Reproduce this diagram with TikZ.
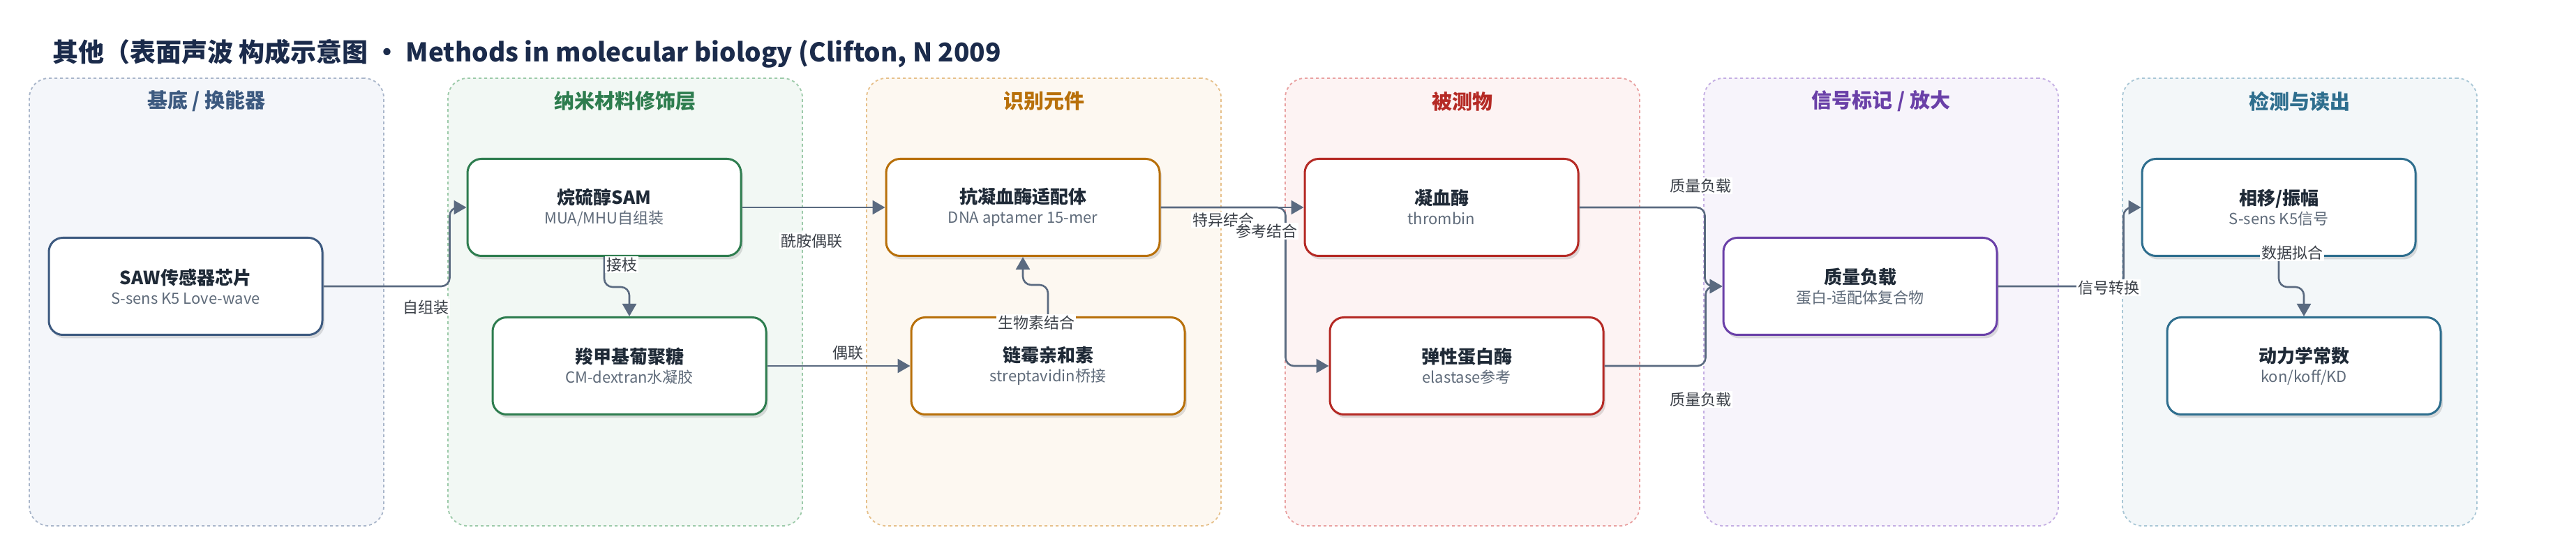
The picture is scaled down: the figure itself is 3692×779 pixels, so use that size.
\documentclass[tikz,border=0pt]{standalone}
\usepackage{fontspec}
\setmainfont{Noto Sans CJK SC}
\usetikzlibrary{arrows.meta,shadows}
\definecolor{ink}{HTML}{1F2A37}
\definecolor{titleInk}{HTML}{1B2B4B}
\definecolor{subGray}{HTML}{5F6B7A}
\definecolor{linkGray}{HTML}{5A6A80}
\definecolor{lblGray}{HTML}{3A3F47}
\definecolor{cBase}{HTML}{3D5A80}
\definecolor{cBaseBg}{HTML}{F4F6FA}
\definecolor{cBaseDash}{HTML}{A9B6CA}
\definecolor{cNano}{HTML}{2E7D4F}
\definecolor{cNanoBg}{HTML}{F2F8F4}
\definecolor{cNanoDash}{HTML}{9CCAA9}
\definecolor{cRec}{HTML}{B8700A}
\definecolor{cRecBg}{HTML}{FDF8F1}
\definecolor{cRecDash}{HTML}{E6C08A}
\definecolor{cAna}{HTML}{B52A25}
\definecolor{cAnaBg}{HTML}{FDF3F3}
\definecolor{cAnaDash}{HTML}{E9A1A1}
\definecolor{cSig}{HTML}{6A40A8}
\definecolor{cSigBg}{HTML}{F7F4FB}
\definecolor{cSigDash}{HTML}{C4AEE3}
\definecolor{cDet}{HTML}{2E6E8E}
\definecolor{cDetBg}{HTML}{F3F7F9}
\definecolor{cDetDash}{HTML}{A9C7D6}
\tikzset{
    >={Triangle[length=9pt,width=10pt]},
    group/.style 2 args={draw=#1,fill=#2,dash pattern=on 2pt off 2pt,line width=0.9pt,rounded corners=14pt,minimum width=254pt,minimum height=320.5pt},
    gtitle/.style={text=#1,font=\fontsize{14.5}{17}\selectfont\bfseries},
    box/.style={draw=#1,line width=1.5pt,fill=white,rounded corners=10pt,minimum width=196pt,minimum height=69.5pt,align=center,
        drop shadow={shadow xshift=1.5pt,shadow yshift=-2.5pt,opacity=0.12,fill=black}},
    link/.style={->,draw=linkGray,line width=1.3pt,rounded corners=6pt},
    lbl/.style={fill=white,inner sep=1pt,text=lblGray,font=\fontsize{11}{13}\selectfont}
}
\newcommand{\nodetext}[2]{{\fontsize{13}{16}\selectfont\bfseries\color{ink}#1}\\[2pt]{\fontsize{11}{13}\selectfont\color{subGray}#2}}

\begin{document}
\begin{tikzpicture}[x=0.5pt,y=-0.5pt]
  \fill[white] (0,0) rectangle (3692,779);
  \useasboundingbox (0,0) rectangle (3692,779);

  \node[anchor=west,inner sep=0pt,text=titleInk,font=\fontsize{18.5}{22}\selectfont\bfseries] (title) at (75,77)
    {其他（表面声波 构成示意图 · Methods in molecular biology (Clifton, N 2009};

  % layers
  \node[group={cBaseDash}{cBaseBg}] (g1) at (296,432.5)  {};
  \node[group={cNanoDash}{cNanoBg}] (g2) at (896,432.5)  {};
  \node[group={cRecDash}{cRecBg}]   (g3) at (1496,432.5) {};
  \node[group={cAnaDash}{cAnaBg}]   (g4) at (2096,432.5) {};
  \node[group={cSigDash}{cSigBg}]   (g5) at (2696,432.5) {};
  \node[group={cDetDash}{cDetBg}]   (g6) at (3296,432.5) {};

  \node[gtitle=cBase] (t1) at (296,145)  {基底 / 换能器};
  \node[gtitle=cNano] (t2) at (896,145)  {纳米材料修饰层};
  \node[gtitle=cRec]  (t3) at (1496,145) {识别元件};
  \node[gtitle=cAna]  (t4) at (2096,145) {被测物};
  \node[gtitle=cSig]  (t5) at (2696,145) {信号标记 / 放大};
  \node[gtitle=cDet]  (t6) at (3296,145) {检测与读出};

  % components
  \node[box=cBase] (saw)   at (266,410)  {\nodetext{SAW传感器芯片}{S-sens K5 Love-wave}};
  \node[box=cNano] (sam)   at (866,297)  {\nodetext{烷硫醇SAM}{MUA/MHU自组装}};
  \node[box=cNano] (cmd)   at (902,524)  {\nodetext{羧甲基葡聚糖}{CM-dextran水凝胶}};
  \node[box=cRec]  (apt)   at (1466,297) {\nodetext{抗凝血酶适配体}{DNA aptamer 15-mer}};
  \node[box=cRec]  (sav)   at (1502,524) {\nodetext{链霉亲和素}{streptavidin桥接}};
  \node[box=cAna]  (thr)   at (2066,297) {\nodetext{凝血酶}{thrombin}};
  \node[box=cAna]  (ela)   at (2102,524) {\nodetext{弹性蛋白酶}{elastase参考}};
  \node[box=cSig]  (mass)  at (2666,410) {\nodetext{质量负载}{蛋白-适配体复合物}};
  \node[box=cDet]  (phase) at (3266,297) {\nodetext{相移/振幅}{S-sens K5信号}};
  \node[box=cDet]  (kin)   at (3302,524) {\nodetext{动力学常数}{kon/koff/KD}};

  % connectors
  \draw[link] (saw.east) -- ++(181,0) |- (sam.west);
  \draw[link] (sam.south) -- ++(0,43) -| (cmd.north);
  \draw[link] (sam.east) -- (apt.west);
  \draw[link] (cmd.east) -- (sav.west);
  \draw[link] (sav.north) -- ++(0,-45) -| (apt.south);
  \draw[link] (apt.east) -- (thr.west);
  \draw[link] (apt.east) -- ++(179,0) |- (ela.west);
  \draw[link] (thr.east) -- ++(180,0) |- (mass.west);
  \draw[link] (ela.east) -- ++(145,0) |- (mass.west);
  \draw[link] (mass.east) -- ++(180,0) |- (phase.west);
  \draw[link] (phase.south) -- ++(0,43) -| (kin.north);

  \node[lbl] (l1)  at (610,440)  {自组装};
  \node[lbl] (l2)  at (891,379)  {接枝};
  \node[lbl] (l3)  at (1163,345) {酰胺偶联};
  \node[lbl] (l4)  at (1215,505) {偶联};
  \node[lbl] (l5)  at (1485,462) {生物素结合};
  \node[lbl] (l6)  at (1753,315) {特异结合};
  \node[lbl] (l7)  at (1815,331) {参考结合};
  \node[lbl] (l8)  at (2437,266) {质量负载};
  \node[lbl] (l9)  at (2437,572) {质量负载};
  \node[lbl] (l10) at (3022,412) {信号转换};
  \node[lbl] (l11) at (3285,362) {数据拟合};
\end{tikzpicture}
\end{document}
